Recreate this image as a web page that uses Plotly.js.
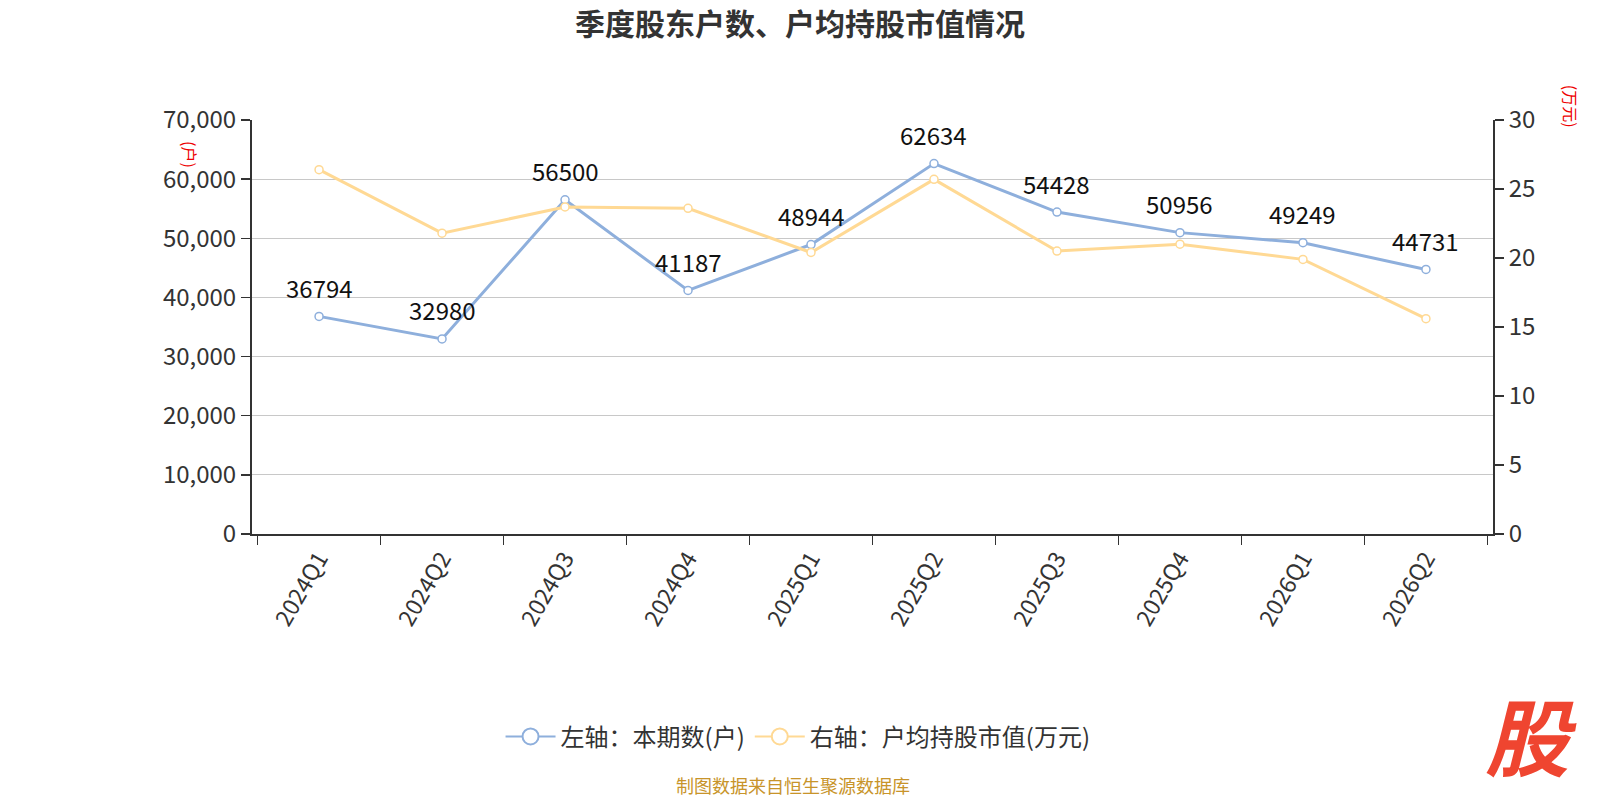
<!DOCTYPE html>
<html>
<head>
<meta charset="utf-8">
<script src="https://cdn.plot.ly/plotly-3.0.1.min.js"></script>
<style>
  body { margin: 0; background: #fff; }
  #chart { width: 1600px; height: 800px; }
</style>
</head>
<body>
<div id="chart"></div>
<script>
var quarters = ["2024Q1", "2024Q2", "2024Q3", "2024Q4", "2025Q1", "2025Q2", "2025Q3", "2025Q4", "2026Q1", "2026Q2"];
var holders = [36794, 32980, 56500, 41187, 48944, 62634, 54428, 50956, 49249, 44731];
var avgValue = [26.4, 21.8, 23.7, 23.6, 20.4, 25.7, 20.5, 21.0, 19.9, 15.6];
var seriesNames = ["左轴：本期数(户)", "右轴：户均持股市值(万元)"];

var FONT = "'Noto Sans CJK SC', 'Noto Sans', sans-serif";
var BLUE = "#8eafdc";
var YELLOW = "#ffd994";

var blue = {
    x: quarters,
    y: holders,
    name: seriesNames[0],
    type: "scatter",
    mode: "lines+markers",
    showlegend: false,
    cliponaxis: false,
    line: { color: BLUE, width: 3 },
    marker: { symbol: "circle", size: 8, color: "#fff", line: { color: BLUE, width: 1.5 } }
};

var yellow = {
    x: quarters,
    y: avgValue,
    name: seriesNames[1],
    type: "scatter",
    mode: "lines+markers",
    yaxis: "y2",
    showlegend: false,
    cliponaxis: false,
    line: { color: YELLOW, width: 3 },
    marker: { symbol: "circle", size: 8, color: "#fff", line: { color: YELLOW, width: 1.5 } }
};

// legend-only entries so the legend symbols can be big, like the original
function legendEntry(name, color) {
    return {
        x: [null], y: [null], name: name, type: "scatter", mode: "lines+markers",
        line: { color: color, width: 2 },
        marker: { symbol: "circle", size: 22, color: "#fff", line: { color: color, width: 2 } }
    };
}

// value labels over the blue points
var labels = [];
for (var i = 0; i < quarters.length; i++) {
    labels.push({
        x: quarters[i], y: holders[i], xref: "x", yref: "y",
        text: String(holders[i]), showarrow: false, yshift: 29,
        xanchor: "center", yanchor: "middle",
        font: { size: 24, color: "#111", family: FONT }
    });
}

var layout = {
    width: 1600,
    height: 800,
    paper_bgcolor: "#fff",
    plot_bgcolor: "#fff",
    font: { family: FONT, color: "#333" },
    title: {
        text: "<b>季度股东户数、户均持股市值情况</b>",
        x: 0.5, xanchor: "center",
        y: 0.969, yanchor: "middle",
        font: { size: 30, color: "#333", family: FONT }
    },
    margin: { l: 252, r: 107, t: 120, b: 266, pad: 0, autoexpand: false },
    showlegend: true,
    legend: {
        orientation: "h",
        x: 0.44, xanchor: "center",
        y: -0.49, yanchor: "middle",
        font: { size: 24, color: "#333", family: FONT },
        itemsizing: "trace",
        itemwidth: 50
    },
    xaxis: {
        type: "category",
        tickson: "boundaries",
        ticks: "outside",
        ticklen: 9,
        tickcolor: "#333",
        tickwidth: 1.5,
        tickangle: -60,
        tickfont: { size: 23, color: "#333", family: FONT },
        showline: true,
        linecolor: "#333",
        linewidth: 2,
        showgrid: false,
        zeroline: false,
        automargin: false,
        fixedrange: true
    },
    yaxis: {
        range: [0, 70000],
        dtick: 10000,
        tickformat: ",",
        ticks: "outside",
        ticklen: 9,
        tickcolor: "#333",
        tickwidth: 1.5,
        tickfont: { size: 24, color: "#333", family: FONT },
        showline: true,
        linecolor: "#333",
        linewidth: 2,
        gridcolor: "#c8c8c8",
        gridwidth: 1,
        zeroline: false,
        automargin: false,
        fixedrange: true
    },
    yaxis2: {
        overlaying: "y",
        side: "right",
        range: [0, 30],
        dtick: 5,
        ticks: "outside",
        ticklen: 9,
        tickcolor: "#333",
        tickwidth: 1.5,
        tickfont: { size: 24, color: "#333", family: FONT },
        showline: true,
        linecolor: "#333",
        linewidth: 2,
        showgrid: false,
        zeroline: false,
        automargin: false,
        fixedrange: true
    },
    annotations: labels.concat([
        {
            text: "(户)", xref: "paper", yref: "paper",
            x: -0.05, y: 0.9155, xanchor: "center", yanchor: "middle",
            showarrow: false, textangle: 90,
            font: { size: 16, color: "#e00", family: FONT }
        },
        {
            text: "(万元)", xref: "paper", yref: "paper",
            x: 1.063, y: 1.034, xanchor: "center", yanchor: "middle",
            showarrow: false, textangle: 90,
            font: { size: 16, color: "#e00", family: FONT }
        },
        {
            text: "制图数据来自恒生聚源数据库", xref: "paper", yref: "paper",
            x: 0.436, y: -0.607, xanchor: "center", yanchor: "middle",
            showarrow: false,
            font: { size: 18, color: "#c8942a", family: FONT }
        },
        {
            text: "<b><i>股</i></b>", xref: "paper", yref: "paper",
            x: 1.031, y: -0.482, xanchor: "center", yanchor: "middle",
            showarrow: false,
            font: { size: 84, color: "#ef4530", family: FONT }
        }
    ])
};

var traces = [blue, yellow, legendEntry(seriesNames[0], BLUE), legendEntry(seriesNames[1], YELLOW)];
Plotly.newPlot("chart", traces, layout, { displayModeBar: false, staticPlot: true });
</script>
</body>
</html>
